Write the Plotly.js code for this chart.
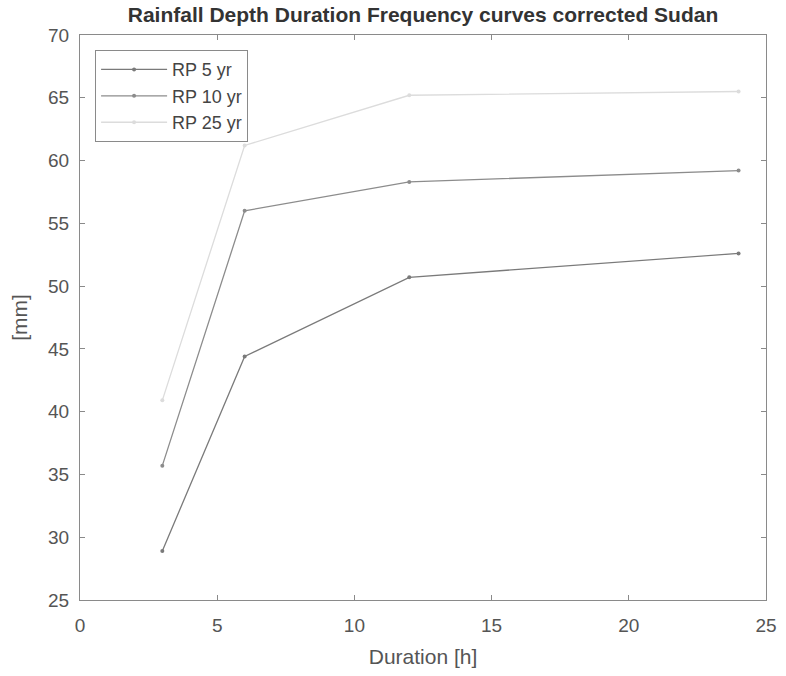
<!DOCTYPE html>
<html>
<head>
<meta charset="utf-8">
<script src="https://cdn.plot.ly/plotly-3.0.1.min.js"></script>
<style>html,body{margin:0;padding:0;background:#fff;}#chart{width:786px;height:676px;}</style>
</head>
<body>
<div id="chart"></div>
<script>
const durations = [3, 6, 12, 24];
const rp5 = [28.9, 44.4, 50.7, 52.6];
const rp10 = [35.7, 56.0, 58.3, 59.2];
const rp25 = [40.9, 61.2, 65.2, 65.5];
const seriesNames = ["RP 5 yr", "RP 10 yr", "RP 25 yr"];
const xTicks = [0, 5, 10, 15, 20, 25];
const yTicks = [25, 30, 35, 40, 45, 50, 55, 60, 65, 70];

const colors = ["#7a7a7a", "#8c8c8c", "#dcdcdc"];
const series = [rp5, rp10, rp25];
const traces = series.map((s, i) => ({
  x: durations, y: s, name: seriesNames[i], type: 'scatter', mode: 'lines+markers',
  legendgroup: 'g' + i,
  line: {color: colors[i], width: 1.3},
  marker: {color: colors[i], size: 4, symbol: 'circle'}
}));

const fam = 'Liberation Sans, Arial, sans-serif';
const axisCommon = {
  showline: true, linecolor: '#8a8a8a', linewidth: 1, mirror: 'allticks',
  ticks: 'inside', ticklen: 5, tickcolor: '#8a8a8a', showgrid: false, zeroline: false,
  tickfont: {family: fam, size: 19, color: '#555'}
};

const layout = {
  width: 786, height: 676,
  margin: {l: 80, r: 20, t: 35, b: 76},
  paper_bgcolor: '#fff', plot_bgcolor: '#fff',
  title: {text: '<b>Rainfall Depth Duration Frequency curves corrected Sudan</b>',
    font: {family: fam, size: 21, color: '#333'},
    x: 0.5, xref: 'paper', y: 0.978, yanchor: 'middle'},
  xaxis: Object.assign({}, axisCommon, {range: [0, 25], tickvals: xTicks, ticklabelstandoff: 8,
    title: {text: 'Duration [h]', font: {family: fam, size: 21, color: '#555'}, standoff: 14}}),
  yaxis: Object.assign({}, axisCommon, {range: [25, 70], tickvals: yTicks, ticklabelstandoff: 6,
    title: {text: '[mm]', font: {family: fam, size: 21, color: '#555'}, standoff: 14}}),
  legend: {x: 0.022, y: 0.973, xanchor: 'left', yanchor: 'top', bgcolor: '#fff',
    bordercolor: '#8a8a8a', borderwidth: 1, tracegroupgap: 0, itemwidth: 66,
    font: {family: fam, size: 18, color: '#444'}},
  showlegend: true
};

Plotly.newPlot('chart', traces, layout, {displayModeBar: false, staticPlot: true});
</script>
</body>
</html>
